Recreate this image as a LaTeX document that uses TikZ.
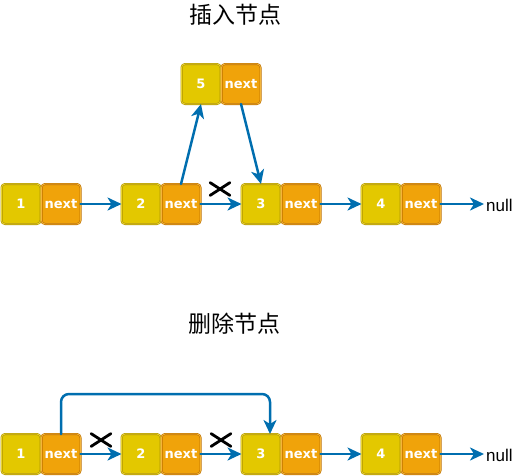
\documentclass[tikz,border=0pt]{standalone}
\usepackage{fontspec}
\setmainfont{Liberation Sans}
\newfontfamily\cjk{Noto Sans CJK SC}
\newfontfamily\boxfont{DejaVu Sans}
\usetikzlibrary{arrows.meta,shapes.misc}
\definecolor{valfill}{HTML}{E3C800}
\definecolor{valline}{HTML}{B09500}
\definecolor{nxtfill}{HTML}{F0A30A}
\definecolor{nxtline}{HTML}{BD7000}
\definecolor{linkblue}{HTML}{006EAF}
\tikzset{
	cell/.style={rounded corners=3.5pt,line width=0.6pt,double distance=0.8pt,minimum width=39pt,minimum height=40pt,inner sep=0pt,outer sep=0pt,text=white,font=\boxfont\bfseries\fontsize{13}{14}\selectfont},
	val/.style={cell,draw=valline,double=valfill!80!white,fill=valfill},
	nxt/.style={cell,draw=nxtline,double=nxtfill!80!white,fill=nxtfill},
	link/.style={draw=linkblue,line width=2.5pt,-{Stealth[length=14pt,width=13pt,inset=4pt]}},
	cut/.style={cross out,draw=black,line width=2.8pt,minimum width=17pt,minimum height=10pt,inner sep=0pt},
	title/.style={font=\cjk\fontsize{23}{25}\selectfont},
	nullbox/.style={font=\fontsize{17}{19}\selectfont,anchor=west,inner sep=2pt}
}

\begin{document}
\begin{tikzpicture}[line cap=round,line join=round,x=1pt,y=-1pt]
	\useasboundingbox (0,0) rectangle (521,475);
	% insert
	\node[title] (titleins) at (235,15) {插入节点};
	\foreach \i in {1,...,4}{
		\node[val] (v\i) at ({21+120*(\i-1)},204) {\i};
		\node[nxt] (n\i) at ({61+120*(\i-1)},204) {next};
	}
	\node[val] (v5) at (201,84) {5};
	\node[nxt] (n5) at (241,84) {next};
	\node[nullbox] (null) at (484,205) {null};
	\draw[link] (n1.east) -- (v2.west);
	\draw[link] (n2.east) -- (v3.west);
	\draw[link] (n3.east) -- (v4.west);
	\draw[link] (n4.east) -- (n4.east -| null.west);
	\draw[link] (n2.north) -- (v5.south);
	\draw[link] (n5.south) -- (v3.north);
	\node[cut] (cutins) at (220,189) {};
	% delete
	\node[title] (titledel) at (234,324) {删除节点};
	\foreach \i in {1,...,4}{
		\node[val] (w\i) at ({21+120*(\i-1)},454) {\i};
		\node[nxt] (m\i) at ({61+120*(\i-1)},454) {next};
	}
	\node[nullbox] (nullb) at (484,455) {null};
	\draw[link] (m1.east) -- (w2.west);
	\draw[link] (m2.east) -- (w3.west);
	\draw[link] (m3.east) -- (w4.west);
	\draw[link] (m4.east) -- (m4.east -| nullb.west);
	\coordinate (bend) at (270,394);
	\draw[link,rounded corners=8pt] (m1.north) -- (m1.north |- bend) -- (bend) -- (bend |- w3.north);
	\node[cut] (cutdela) at (101,440) {};
	\node[cut] (cutdelb) at (221,440) {};
\end{tikzpicture}
\end{document}
